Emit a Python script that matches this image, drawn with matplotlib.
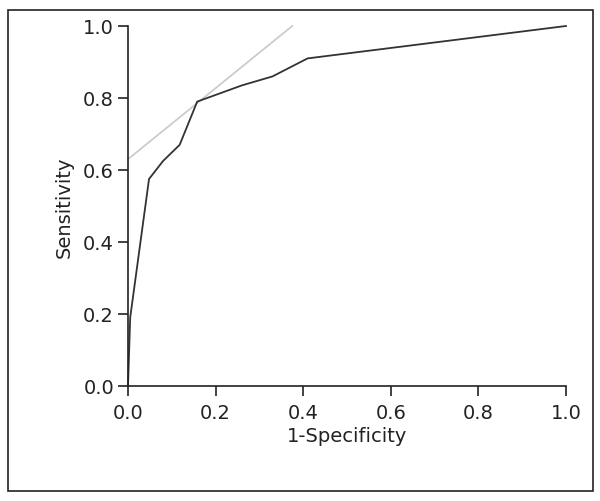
import matplotlib.pyplot as plt
from matplotlib.patches import Rectangle

# ROC curve points (1-specificity, sensitivity)
fpr = [0.0, 0.005, 0.048, 0.08, 0.118, 0.158, 0.26, 0.33, 0.41, 1.0]
tpr = [0.0, 0.19, 0.575, 0.625, 0.67, 0.79, 0.835, 0.86, 0.91, 1.0]

# tangent line
tan_x = [0.0, 0.375]
tan_y = [0.63, 1.0]

ticks = [0.0, 0.2, 0.4, 0.6, 0.8, 1.0]
tick_labels = ['0.0', '0.2', '0.4', '0.6', '0.8', '1.0']

plt.rcParams['font.family'] = ['DejaVu Sans']

fig = plt.figure(figsize=(6.0, 5.02), dpi=100)
fig.patches.append(Rectangle((8 / 600, 1 - 492 / 502), 585 / 600, 481 / 502,
                             transform=fig.transFigure, fill=False,
                             edgecolor='#222222', linewidth=1.2))

ax = fig.add_axes([128 / 600, 1 - 387 / 502, 438 / 600, 360 / 502])
ax.plot(tan_x, tan_y, color='#cccccc', linewidth=1.3, clip_on=False)
ax.plot(fpr, tpr, color='#333333', linewidth=1.3, clip_on=False)

ax.set_xlim(0, 1)
ax.set_ylim(0, 1)
ax.set_xticks(ticks)
ax.set_xticklabels(tick_labels)
ax.set_yticks(ticks)
ax.set_yticklabels(tick_labels)
for s in ['top', 'right']:
    ax.spines[s].set_visible(False)
for s in ['left', 'bottom']:
    ax.spines[s].set_color('#222222')
    ax.spines[s].set_linewidth(1.2)
ax.tick_params(direction='out', length=7, width=1.2, colors='#222222',
               labelsize=14)
ax.tick_params(axis='x', pad=5)
ax.tick_params(axis='y', pad=3)
ax.set_xlabel('1-Specificity', fontsize=14, color='#222222', labelpad=3)
ax.set_ylabel('Sensitivity', fontsize=14, color='#222222', labelpad=7)

fig.savefig('out.png', dpi=100)
